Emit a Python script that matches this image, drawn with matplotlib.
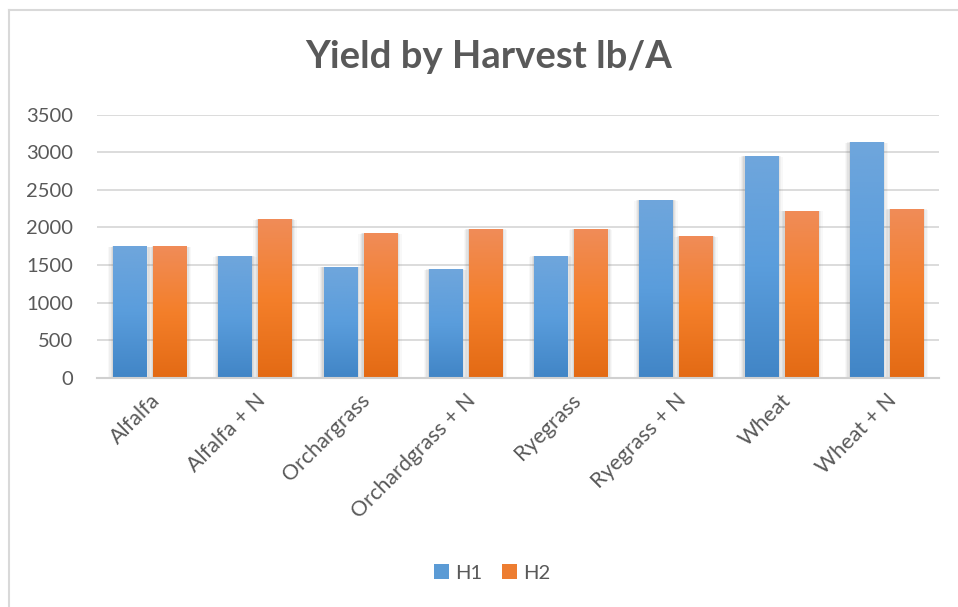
import numpy as np
import matplotlib
matplotlib.use("Agg")
import matplotlib.pyplot as plt
from matplotlib.patches import Patch, Rectangle
from matplotlib.colors import LinearSegmentedColormap
from matplotlib.lines import Line2D

categories = ["Alfalfa", "Alfalfa + N", "Orchargrass", "Orchardgrass + N",
              "Ryegrass", "Ryegrass + N", "Wheat", "Wheat + N"]
h1 = [1750, 1620, 1475, 1445, 1620, 2365, 2950, 3135]
h2 = [1750, 2110, 1925, 1980, 1980, 1885, 2220, 2245]
series_names = ["H1", "H2"]
yticks = [0, 500, 1000, 1500, 2000, 2500, 3000, 3500]

plt.rcParams['font.family'] = ['Lato', 'DejaVu Sans']
TXT = '#595959'

fig = plt.figure(figsize=(9.58, 6.07), dpi=100)
W, H = 958, 607
ax = fig.add_axes([97 / W, 1 - 377.7 / H, 842 / W, 263 / H])

x = np.arange(len(categories))
bw = 0.315
off = 0.19
b1 = ax.bar(x - off, h1, bw, color='#5b9bd5', zorder=3)
b2 = ax.bar(x + off, h2, bw, color='#ed7d31', zorder=3)

blue_cm = LinearSegmentedColormap.from_list('b', ['#4185c6', '#5a9ddc', '#6fa6dc'])
orange_cm = LinearSegmentedColormap.from_list('o', ['#e36a14', '#f47f2a', '#f08c58'])
grad = np.linspace(0, 1, 256).reshape(-1, 1)

def decorate(bars, cmap):
    for p in bars.patches:
        x0, y0 = p.get_x(), p.get_y()
        w, h = p.get_width(), p.get_height()
        # soft shadow
        for i, a in enumerate([0.10, 0.08, 0.06, 0.04]):
            dx = 0.012 * (i + 1)
            ax.add_patch(Rectangle((x0 - dx, y0 - 8 * (i + 1)), w + 2 * dx, h + 6 * (i + 1),
                                   facecolor='#606060', alpha=a, edgecolor='none', zorder=2))
        im = ax.imshow(grad, cmap=cmap, aspect='auto', origin='lower',
                       extent=[x0, x0 + w, y0, y0 + h], zorder=3.5)
        im.set_clip_path(p)

decorate(b1, blue_cm)
decorate(b2, orange_cm)

ax.set_xlim(-0.5, len(categories) - 0.5)
ax.set_ylim(0, 3500)
ax.set_yticks(yticks)
ax.set_yticklabels([str(v) for v in yticks], fontsize=14.5, color=TXT)
ax.set_xticks(x)
ax.set_xticklabels(categories, rotation=45, ha='right', va='top',
                   rotation_mode='anchor', fontsize=15.5, color=TXT)
ax.tick_params(axis='both', length=0)
ax.tick_params(axis='y', pad=17)
ax.tick_params(axis='x', pad=9)
ax.yaxis.grid(True, color='#d9d9d9', linewidth=1.3, zorder=0)
ax.set_axisbelow(True)
for s in ['top', 'right', 'left']:
    ax.spines[s].set_visible(False)
ax.spines['bottom'].set_color('#d0d0d0')
ax.spines['bottom'].set_linewidth(1.5)
ax.spines['bottom'].set_zorder(5)

fig.text(489 / W, 1 - 57 / H, "Yield by Harvest lb/A", ha='center', va='center',
         fontsize=27.5, fontweight='bold', color=TXT)

handles = [Patch(facecolor='#5b9bd5', edgecolor='none'),
           Patch(facecolor='#ed7d31', edgecolor='none')]
fig.legend(handles, series_names, loc='center', bbox_to_anchor=(492 / W, 1 - 573 / H),
           ncol=2, frameon=False, fontsize=14.5, labelcolor=TXT,
           handlelength=0.75, handleheight=0.75, handletextpad=0.3, columnspacing=1.0)

# chart border (left and top visible)
fig.add_artist(Line2D([8.5 / W, 8.5 / W], [0, 1 - 9.5 / H], transform=fig.transFigure,
                      color='#d9d9d9', linewidth=1.5))
fig.add_artist(Line2D([8.5 / W, 1], [1 - 9.5 / H, 1 - 9.5 / H], transform=fig.transFigure,
                      color='#d9d9d9', linewidth=1.5))

fig.savefig("out.png", dpi=100)
